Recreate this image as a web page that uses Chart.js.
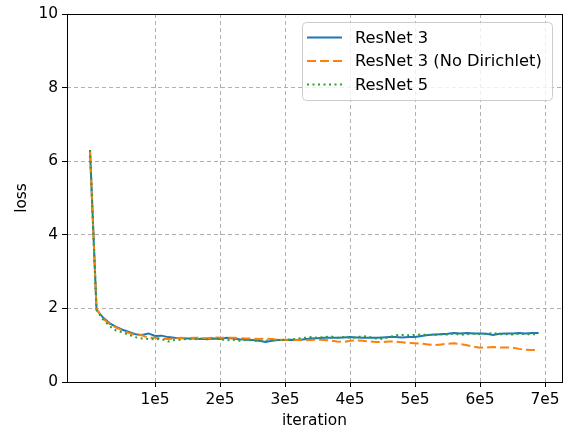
<!DOCTYPE html>
<html>
<head>
<meta charset="utf-8">
<script src="https://cdn.jsdelivr.net/npm/chart.js@4.4.0/dist/chart.umd.min.js"></script>
<style>
  html, body { margin: 0; padding: 0; background: #fff; }
</style>
</head>
<body>
<canvas id="loss-chart" width="565" height="430"></canvas>
<script>
// --- Data (one point every 1e4 iterations) ---
const iterations = [
    0, 10000, 20000, 30000, 40000, 50000, 60000, 70000, 80000, 90000,
    100000, 110000, 120000, 130000, 140000, 150000, 160000, 170000, 180000, 190000,
    200000, 210000, 220000, 230000, 240000, 250000, 260000, 270000, 280000, 290000,
    300000, 310000, 320000, 330000, 340000, 350000, 360000, 370000, 380000, 390000,
    400000, 410000, 420000, 430000, 440000, 450000, 460000, 470000, 480000, 490000,
    500000, 510000, 520000, 530000, 540000, 550000, 560000, 570000, 580000, 590000,
    600000, 610000, 620000, 630000, 640000, 650000, 660000, 670000, 680000, 690000
];

const resnet3 = [
    6.30, 1.97, 1.75, 1.60, 1.50, 1.42, 1.36, 1.30, 1.28, 1.32,
    1.25, 1.26, 1.22, 1.20, 1.19, 1.18, 1.18, 1.17, 1.17, 1.18,
    1.17, 1.20, 1.18, 1.16, 1.15, 1.14, 1.12, 1.09, 1.12, 1.14,
    1.14, 1.15, 1.14, 1.16, 1.18, 1.19, 1.20, 1.20, 1.20, 1.21,
    1.22, 1.21, 1.20, 1.20, 1.20, 1.21, 1.22, 1.22, 1.21, 1.22,
    1.22, 1.25, 1.28, 1.29, 1.30, 1.31, 1.33, 1.32, 1.33, 1.32,
    1.32, 1.31, 1.28, 1.31, 1.32, 1.32, 1.33, 1.32, 1.33, 1.33
];

const resnet3NoDirichlet = [
    6.25, 1.98, 1.72, 1.58, 1.48, 1.40, 1.33, 1.28, 1.27, 1.20,
    1.20, 1.18, 1.17, 1.18, 1.20, 1.19, 1.20, 1.20, 1.19, 1.21,
    1.20, 1.20, 1.20, 1.19, 1.18, 1.18, 1.17, 1.18, 1.17, 1.15,
    1.15, 1.13, 1.15, 1.13, 1.14, 1.15, 1.14, 1.13, 1.10, 1.09,
    1.12, 1.13, 1.12, 1.10, 1.09, 1.08, 1.10, 1.10, 1.08, 1.06,
    1.05, 1.04, 1.02, 1.00, 1.02, 1.04, 1.05, 1.03, 1.00, 0.96,
    0.93, 0.94, 0.95, 0.94, 0.94, 0.93, 0.90, 0.88, 0.87, 0.87
];

const resnet5 = [
    6.30, 1.95, 1.70, 1.52, 1.40, 1.35, 1.28, 1.22, 1.18, 1.17,
    1.16, 1.17, 1.10, 1.14, 1.15, 1.17, 1.16, 1.18, 1.16, 1.19,
    1.17, 1.13, 1.15, 1.12, 1.14, 1.13, 1.11, 1.12, 1.13, 1.15,
    1.14, 1.16, 1.18, 1.20, 1.22, 1.20, 1.22, 1.24, 1.20, 1.22,
    1.20, 1.21, 1.25, 1.22, 1.18, 1.17, 1.22, 1.27, 1.28, 1.27,
    1.28, 1.29, 1.28, 1.28, 1.30, 1.29, 1.32, 1.28, 1.30, 1.31,
    1.30, 1.31, 1.33, 1.30, 1.30, 1.29, 1.31, 1.30, 1.30, 1.30
];

const xTickValues = [100000, 200000, 300000, 400000, 500000, 600000, 700000];
const xTickLabels = ['1e5', '2e5', '3e5', '4e5', '5e5', '6e5', '7e5'];

const FONT = 'DejaVu Sans';

function toPoints(values) {
    return iterations.map((it, i) => ({ x: it, y: values[i] }));
}

// Draws the closed axes frame (matplotlib spines) over the grid
const frame = {
    id: 'frame',
    afterDatasetsDraw(chart) {
        const { ctx, chartArea: a } = chart;
        ctx.save();
        ctx.strokeStyle = '#000';
        ctx.lineWidth = 1;
        ctx.strokeRect(a.left + 0.5, a.top + 0.5, a.right - a.left, a.bottom - a.top);
        ctx.restore();
    }
};

// matplotlib-like legend in the upper right corner
const boxLegend = {
    id: 'boxLegend',
    afterDraw(chart) {
        const { ctx, chartArea: a } = chart;
        const w = 250, h = 78;
        const x = a.right - 10 - w, y = a.top + 8;
        ctx.save();
        ctx.beginPath();
        ctx.roundRect(x + 0.5, y + 0.5, w, h, 4);
        ctx.fillStyle = 'rgba(255,255,255,0.8)';
        ctx.fill();
        ctx.strokeStyle = '#cccccc';
        ctx.lineWidth = 1;
        ctx.stroke();

        ctx.font = '16.3px "' + FONT + '"';
        ctx.textBaseline = 'middle';
        chart.data.datasets.forEach((ds, i) => {
            const rowY = y + 15.5 + i * 23.5;
            ctx.beginPath();
            ctx.setLineDash(ds.borderDash || []);
            ctx.strokeStyle = ds.borderColor;
            ctx.lineWidth = ds.borderWidth;
            ctx.moveTo(x + 5, rowY);
            ctx.lineTo(x + 40, rowY);
            ctx.stroke();
            ctx.setLineDash([]);
            ctx.fillStyle = '#000';
            ctx.fillText(ds.label, x + 53, rowY + 1);
        });
        ctx.restore();
    }
};

const ctx = document.getElementById('loss-chart').getContext('2d');
new Chart(ctx, {
    type: 'line',
    data: {
        datasets: [
            {
                label: 'ResNet 3',
                data: toPoints(resnet3),
                borderColor: '#1f77b4',
                borderWidth: 2,
                order: 2
            },
            {
                label: 'ResNet 3 (No Dirichlet)',
                data: toPoints(resnet3NoDirichlet),
                borderColor: '#ff7f0e',
                borderWidth: 2,
                borderDash: [9, 4],
                order: 1
            },
            {
                label: 'ResNet 5',
                data: toPoints(resnet5),
                borderColor: '#2ca02c',
                borderWidth: 2,
                borderDash: [2, 3.5],
                order: 0
            }
        ]
    },
    options: {
        responsive: false,
        devicePixelRatio: 1,
        animation: false,
        events: [],
        elements: {
            point: { radius: 0 },
            line: { tension: 0, fill: false }
        },
        layout: {
            padding: { top: 14, right: 3, left: 0, bottom: 0 }
        },
        plugins: {
            legend: { display: false },
            tooltip: { enabled: false }
        },
        scales: {
            x: {
                type: 'linear',
                min: -35400,
                max: 726000,
                afterBuildTicks: function(scale) {
                    scale.ticks = xTickValues.map(v => ({ value: v }));
                },
                afterFit: function(scale) {
                    scale.height = 48;
                },
                ticks: {
                    color: '#000',
                    padding: 4,
                    maxRotation: 0,
                    font: { family: FONT, size: 15.4 },
                    callback: function(value, index) {
                        return xTickLabels[index];
                    }
                },
                grid: {
                    color: '#b0b0b0',
                    lineWidth: 1,
                    tickColor: '#000',
                    tickLength: 5,
                    tickWidth: 1,
                    tickBorderDash: []
                },
                border: { display: false, dash: [4, 3] },
                title: {
                    display: true,
                    text: 'iteration',
                    color: '#000',
                    font: { family: FONT, size: 15.4 },
                    padding: { top: 0, bottom: 0 }
                }
            },
            y: {
                min: 0,
                max: 10,
                afterFit: function(scale) {
                    scale.width = 67;
                },
                ticks: {
                    stepSize: 2,
                    color: '#000',
                    padding: 4,
                    font: { family: FONT, size: 15.4 }
                },
                grid: {
                    color: '#b0b0b0',
                    lineWidth: 1,
                    tickColor: '#000',
                    tickLength: 5,
                    tickWidth: 1,
                    tickBorderDash: []
                },
                border: { display: false, dash: [4, 3] },
                title: {
                    display: true,
                    text: 'loss',
                    color: '#000',
                    font: { family: FONT, size: 15.4 },
                    padding: { top: 13, bottom: 0 }
                }
            }
        }
    },
    plugins: [frame, boxLegend]
});
</script>
</body>
</html>
